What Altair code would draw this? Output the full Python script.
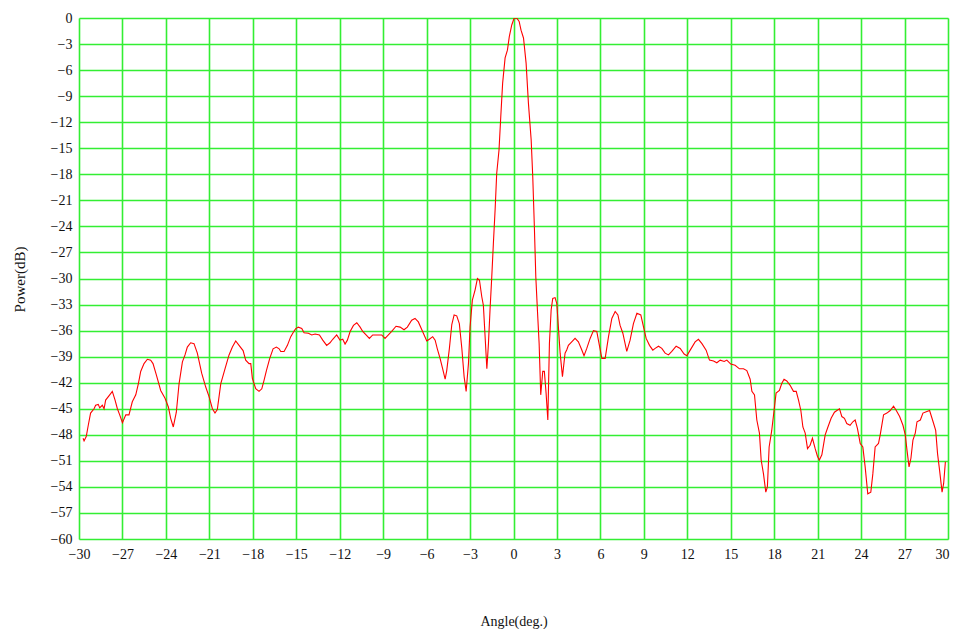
import altair as alt
import pandas as pd

angle = [
    -29.72, -29.65, -29.5, -29.36, -29.2, -28.96, -28.85, -28.67, -28.57, -28.39,
    -28.27, -28.16, -27.88, -27.7, -27.51, -27.35, -27.19, -27.0, -26.77, -26.55,
    -26.32, -26.08, -25.9, -25.74, -25.51, -25.28, -25.05, -24.89, -24.66, -24.36,
    -24.06, -23.83, -23.67, -23.49, -23.28, -23.09, -22.86, -22.68, -22.52, -22.29,
    -22.06, -21.83, -21.53, -21.25, -21.02, -20.79, -20.61, -20.45, -20.21, -19.92,
    -19.64, -19.41, -19.18, -18.95, -18.67, -18.49, -18.26, -18.14, -18.03, -17.8,
    -17.57, -17.38, -17.22, -17.06, -16.83, -16.6, -16.37, -16.18, -16.07, -15.84,
    -15.61, -15.38, -15.2, -15.05, -14.86, -14.62, -14.46, -14.16, -13.93, -13.7,
    -13.4, -13.17, -12.9, -12.67, -12.48, -12.21, -11.98, -11.79, -11.63, -11.47,
    -11.28, -11.05, -10.82, -10.59, -10.41, -10.18, -9.95, -9.72, -9.4, -9.1,
    -8.87, -8.64, -8.41, -8.11, -7.83, -7.56, -7.33, -7.03, -6.8, -6.57,
    -6.33, -6.17, -5.99, -5.81, -5.58, -5.41, -5.26, -5.07, -4.89, -4.72,
    -4.61, -4.43, -4.26, -4.1, -3.92, -3.74, -3.57, -3.41, -3.27, -3.11,
    -3.0, -2.84, -2.65, -2.49, -2.35, -2.19, -2.08, -1.96, -1.84, -1.73,
    -1.62, -1.5, -1.39, -1.27, -1.16, -1.0, -0.88, -0.75, -0.58, -0.42,
    -0.29, -0.12, 0.04, 0.22, 0.39, 0.52, 0.69, 0.87, 1.03, 1.22,
    1.33, 1.44, 1.54, 1.65, 1.77, 1.88, 2.02, 2.13, 2.25, 2.37,
    2.48, 2.6, 2.71, 2.87, 2.99, 3.1, 3.22, 3.38, 3.56, 3.68,
    3.79, 4.02, 4.25, 4.48, 4.71, 4.87, 5.06, 5.29, 5.52, 5.75,
    5.93, 6.1, 6.33, 6.56, 6.79, 7.02, 7.21, 7.36, 7.55, 7.82,
    8.05, 8.28, 8.52, 8.79, 8.98, 9.16, 9.39, 9.62, 9.78, 10.01,
    10.24, 10.47, 10.7, 10.93, 11.23, 11.51, 11.78, 11.97, 12.2, 12.54,
    12.77, 13.01, 13.3, 13.53, 13.81, 14.04, 14.27, 14.55, 14.73, 15.0,
    15.3, 15.6, 15.88, 16.11, 16.34, 16.46, 16.64, 16.8, 16.98, 17.1,
    17.26, 17.42, 17.53, 17.65, 17.83, 17.99, 18.13, 18.36, 18.52, 18.68,
    18.87, 19.1, 19.33, 19.52, 19.68, 19.84, 19.98, 20.14, 20.3, 20.48,
    20.64, 20.83, 20.99, 21.12, 21.29, 21.52, 21.71, 21.93, 22.16, 22.33,
    22.51, 22.67, 22.85, 23.01, 23.24, 23.43, 23.59, 23.75, 23.94, 24.12,
    24.28, 24.46, 24.67, 24.81, 24.97, 25.2, 25.32, 25.55, 25.78, 26.01,
    26.24, 26.43, 26.66, 26.89, 27.05, 27.17, 27.31, 27.44, 27.58, 27.74,
    27.86, 28.09, 28.27, 28.5, 28.73, 28.97, 29.15, 29.28, 29.42, 29.59,
    29.7, 29.82,
]

power = [
    -48.4, -48.7, -48.2, -46.9, -45.5, -45.0, -44.6, -44.5, -44.9, -44.6,
    -45.0, -44.0, -43.4, -43.0, -44.0, -45.0, -45.7, -46.6, -45.7, -45.7,
    -44.2, -43.4, -42.1, -40.7, -39.8, -39.3, -39.4, -39.8, -41.1, -42.9,
    -43.8, -44.8, -46.1, -47.1, -45.4, -42.1, -39.6, -38.8, -37.9, -37.4,
    -37.5, -38.6, -40.9, -42.5, -43.6, -45.0, -45.5, -45.1, -42.1, -40.4,
    -38.8, -37.9, -37.2, -37.7, -38.3, -39.4, -39.8, -39.8, -41.5, -42.7,
    -43.0, -42.7, -41.7, -40.6, -39.2, -38.1, -37.9, -38.1, -38.4, -38.4,
    -37.7, -36.7, -36.2, -35.8, -35.6, -35.75, -36.25, -36.3, -36.5, -36.4,
    -36.5, -37.1, -37.7, -37.4, -37.0, -36.5, -37.1, -37.0, -37.55, -37.1,
    -36.1, -35.4, -35.1, -35.6, -36.1, -36.5, -36.9, -36.5, -36.5, -36.5,
    -36.9, -36.5, -36.1, -35.5, -35.6, -35.9, -35.6, -34.8, -34.6, -35.0,
    -35.9, -36.5, -37.2, -37.0, -36.7, -37.1, -38.1, -39.2, -40.4, -41.6,
    -40.6, -38.1, -35.3, -34.2, -34.3, -35.2, -38.0, -41.3, -43.0, -39.8,
    -35.6, -32.5, -31.3, -30.0, -30.2, -32.1, -33.1, -36.7, -40.4, -37.5,
    -33.6, -29.8, -26.0, -22.1, -17.9, -15.2, -11.4, -7.5, -4.6, -3.7,
    -2.15, -0.8, -0.03, 0.0, -0.4, -1.4, -2.3, -5.2, -9.8, -14.05,
    -18.3, -24.0, -29.8, -33.6, -37.5, -43.4, -40.7, -40.7, -43.2, -46.3,
    -37.5, -33.6, -32.3, -32.2, -32.9, -35.6, -38.6, -41.3, -38.6, -38.2,
    -37.7, -37.3, -36.9, -37.3, -38.2, -38.9, -38.05, -36.9, -36.0, -36.1,
    -37.7, -39.2, -39.2, -36.7, -34.6, -33.8, -34.2, -35.4, -36.3, -38.4,
    -37.1, -35.2, -34.0, -34.2, -35.6, -36.9, -37.7, -38.25, -38.05, -37.8,
    -38.05, -38.6, -38.8, -38.4, -37.8, -38.05, -38.7, -38.9, -38.25, -37.3,
    -37.0, -37.5, -38.25, -39.4, -39.5, -39.7, -39.4, -39.55, -39.4, -39.85,
    -40.0, -40.4, -40.4, -40.6, -41.6, -43.0, -43.4, -46.3, -47.8, -50.9,
    -52.5, -54.6, -54.0, -49.4, -47.5, -45.2, -43.2, -42.9, -42.1, -41.6,
    -41.8, -42.3, -43.0, -43.0, -44.0, -45.2, -47.1, -47.8, -49.6, -49.2,
    -48.4, -49.6, -50.5, -50.9, -50.3, -48.0, -47.1, -46.1, -45.4, -45.2,
    -45.0, -45.9, -46.1, -46.7, -46.9, -46.5, -46.3, -47.3, -49.0, -49.4,
    -51.7, -54.8, -54.6, -52.5, -49.4, -49.0, -48.0, -45.7, -45.5, -45.2,
    -44.7, -45.2, -45.9, -46.9, -48.0, -49.8, -51.7, -50.7, -48.6, -47.8,
    -46.5, -46.3, -45.5, -45.35, -45.2, -46.5, -47.5, -50.2, -52.1, -54.6,
    -53.6, -51.1,
]

x_ticks = list(range(-30, 31, 3))
y_ticks = list(range(-60, 1, 3))

df = pd.DataFrame({"angle": angle, "power": power})

FONT = "Liberation Serif"
GRID = "#33ee33"

line = alt.Chart(df).mark_line(color="#ff0000", strokeWidth=1.1, clip=True).encode(
    x=alt.X(
        "angle:Q",
        scale=alt.Scale(domain=[-30, 30], nice=False, zero=False),
        axis=alt.Axis(
            values=x_ticks,
            title="Angle(deg.)",
            ticks=False,
            domain=False,
            grid=True,
            gridColor=GRID,
            gridWidth=1.6,
            labelPadding=8,
            labelOffset={"expr": "datum.value == 30 ? -6 : 0"},
            labelFont=FONT,
            labelFontSize=14,
            labelColor="#111111",
            labelFlush=False,
            labelOverlap=False,
            titleFont=FONT,
            titleFontSize=14,
            titleFontWeight="normal",
            titleColor="#111111",
            titleBaseline="middle",
            titleY=82,
        ),
    ),
    y=alt.Y(
        "power:Q",
        scale=alt.Scale(domain=[-60, 0], nice=False, zero=False),
        axis=alt.Axis(
            values=y_ticks,
            title="Power(dB)",
            ticks=False,
            domain=False,
            grid=True,
            gridColor=GRID,
            gridWidth=1.6,
            labelPadding=7,
            labelFont=FONT,
            labelFontSize=14,
            labelColor="#111111",
            labelFlush=False,
            labelOverlap=False,
            titleFont=FONT,
            titleFontSize=15,
            titleFontWeight="normal",
            titleColor="#111111",
            titleBaseline="middle",
            titleAngle=-90,
            titleX=-60,
            titleY=261,
        ),
    ),
    order=alt.Order("angle:Q"),
)

chart = line.properties(
    width=869,
    height=521,
    autosize="none",
    padding={"left": 71, "top": 10, "right": 2, "bottom": 90},
).configure_view(stroke="#11dd11", strokeWidth=2).configure(background="white")

chart.save("out.html", embed_options={"renderer": "svg", "actions": False})
